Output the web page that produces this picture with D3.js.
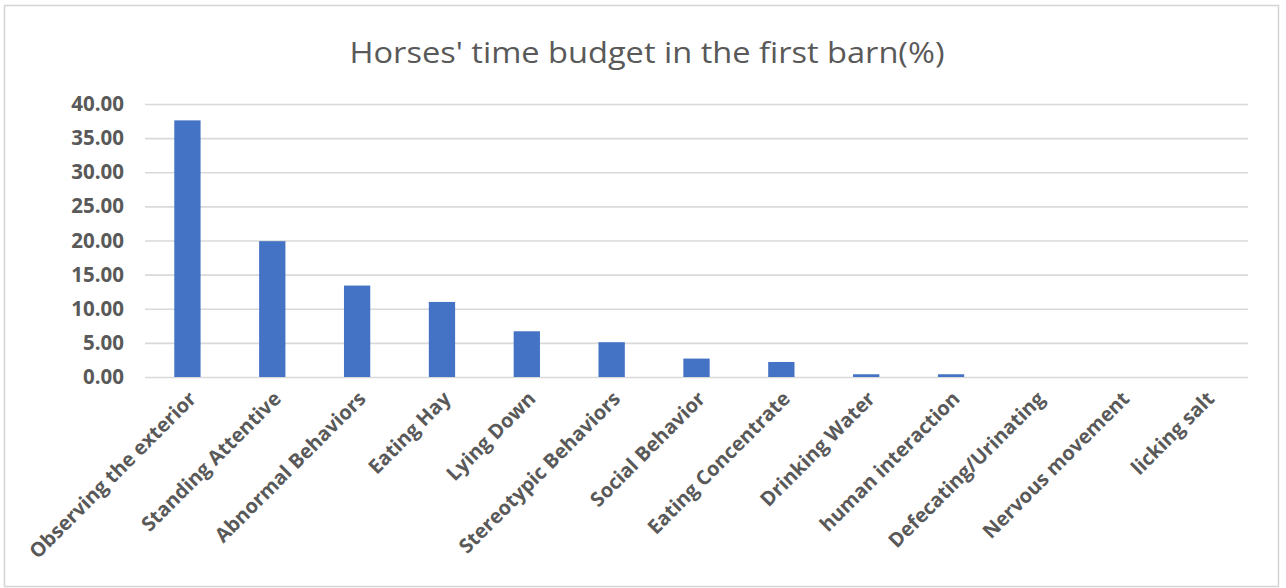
<!DOCTYPE html>
<html>
<head>
<meta charset="utf-8">
<script src="https://cdn.jsdelivr.net/npm/d3@7/dist/d3.min.js"></script>
<style>
  html, body { margin: 0; padding: 0; background: #ffffff; }
  svg { display: block; }
</style>
</head>
<body>
<svg id="chart" width="1286" height="588"></svg>
<script>
// Horses' time budget in the first barn, share of observed time (%)
const chartTitle = "Horses' time budget in the first barn(%)";

const categories = [
  "Observing the exterior",
  "Standing Attentive",
  "Abnormal Behaviors",
  "Eating Hay",
  "Lying Down",
  "Stereotypic Behaviors",
  "Social Behavior",
  "Eating Concentrate",
  "Drinking Water",
  "human interaction",
  "Defecating/Urinating",
  "Nervous movement",
  "licking salt"
];

const timeShare = [37.6, 19.9, 13.4, 11.0, 6.7, 5.1, 2.7, 2.2, 0.4, 0.4, 0, 0, 0];

const yTicks = [0, 5, 10, 15, 20, 25, 30, 35, 40];

const svg = d3.select("#chart");

const plot = { left: 145, right: 1248, top: 104, bottom: 377 };

const textGrey = "#595959";
const gridGrey = "#d9d9d9";
const barBlue = "#4472c4";

// outer chart frame
svg.append("rect")
  .attr("x", 4.5).attr("y", 5.5)
  .attr("width", 1274).attr("height", 581)
  .attr("fill", "#ffffff")
  .attr("stroke", "#d4d4d4")
  .attr("stroke-width", 1.5);

// title
svg.append("text")
  .attr("x", 647).attr("y", 63)
  .attr("text-anchor", "middle")
  .attr("font-family", "'Open Sans', sans-serif")
  .attr("font-size", 30)
  .attr("fill", textGrey)
  .attr("textLength", 595)
  .attr("lengthAdjust", "spacingAndGlyphs")
  .text(chartTitle);

const x = d3.scaleBand()
  .domain(categories)
  .range([plot.left, plot.right])
  .paddingInner(0.69)
  .paddingOuter(0.345);

const y = d3.scaleLinear()
  .domain([0, 40])
  .range([plot.bottom, plot.top]);

// horizontal gridlines + value labels
const yAxis = d3.axisLeft(y)
  .tickValues(yTicks)
  .tickFormat(d3.format(".2f"))
  .tickSize(-(plot.right - plot.left))
  .tickPadding(21);

const gy = svg.append("g")
  .attr("transform", `translate(${plot.left},0)`)
  .call(yAxis);
gy.select(".domain").remove();
gy.selectAll(".tick line")
  .attr("stroke", gridGrey)
  .attr("stroke-width", 1.6);
gy.selectAll(".tick text")
  .attr("font-family", "'Open Sans', sans-serif")
  .attr("font-weight", 700)
  .attr("font-size", 20.5)
  .attr("fill", textGrey);

// bars
svg.append("g")
  .selectAll("rect")
  .data(categories)
  .join("rect")
  .attr("x", d => x(d))
  .attr("width", x.bandwidth())
  .attr("y", (d, i) => y(timeShare[i]))
  .attr("height", (d, i) => y(0) - y(timeShare[i]))
  .attr("fill", barBlue);

// category labels, slanted
const xAxis = d3.axisBottom(x).tickSize(0).tickPadding(0);
const gx = svg.append("g")
  .attr("transform", `translate(0,${plot.bottom})`)
  .call(xAxis);
gx.select(".domain").remove();
gx.selectAll(".tick text")
  .attr("font-family", "'Open Sans', sans-serif")
  .attr("font-weight", 700)
  .attr("font-size", 20)
  .attr("fill", textGrey)
  .attr("text-anchor", "end")
  .attr("dy", 0)
  .attr("y", 0)
  .attr("transform", "translate(10,23) rotate(-45)");
</script>
</body>
</html>
